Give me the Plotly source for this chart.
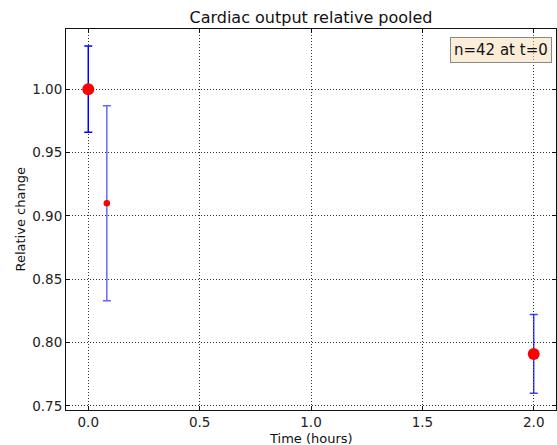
import plotly.graph_objects as go

times = [0.0, 0.0833, 2.0]
means = [1.000, 0.910, 0.791]
errs = [0.034, 0.077, 0.031]
marker_sizes = [12, 6.5, 12]
err_colors = ["rgb(0,0,255)", "rgba(0,0,255,0.6)", "rgba(0,0,255,0.75)"]

x_ticks = [0.0, 0.5, 1.0, 1.5, 2.0]
x_ticklabels = ["0.0", "0.5", "1.0", "1.5", "2.0"]
y_ticks = [0.75, 0.80, 0.85, 0.90, 0.95, 1.00]
y_ticklabels = ["0.75", "0.80", "0.85", "0.90", "0.95", "1.00"]

W, H = 557, 445
ML, MR, MT, MB = 66, 1, 29, 35

fig = go.Figure()
for t, m, e, s, c in zip(times, means, errs, marker_sizes, err_colors):
    fig.add_trace(go.Scatter(
        x=[t], y=[m], mode="markers",
        marker=dict(color="red", size=s, line=dict(width=0)),
        error_y=dict(type="data", array=[e], visible=True, color=c,
                     thickness=1.5, width=4),
        showlegend=False,
    ))

font = "DejaVu Sans, sans-serif"
axis_common = dict(
    showline=True, linecolor="#111111", linewidth=1, mirror="ticks",
    ticks="inside", ticklen=4, tickcolor="#111111",
    showgrid=True, gridcolor="#333333", gridwidth=1, griddash="1px,2px",
    zeroline=False, automargin=False,
    tickfont=dict(family=font, size=13.5, color="#222"),
)

pw = W - ML - MR
ph = H - MT - MB

fig.update_layout(
    width=W, height=H,
    margin=dict(l=ML, r=MR, t=MT, b=MB),
    paper_bgcolor="white", plot_bgcolor="white",
    title=dict(text="Cardiac output relative pooled",
               x=0.5, xanchor="center", xref="paper",
               y=1 - 17 / H, yanchor="middle",
               font=dict(family=font, size=16, color="#111")),
    xaxis=dict(range=[-0.1, 2.1], tickvals=x_ticks, ticktext=x_ticklabels,
               **axis_common),
    yaxis=dict(range=[0.7467, 1.0475], tickvals=y_ticks, ticktext=y_ticklabels,
               **axis_common),
    annotations=[
        dict(text="n=42 at t=0", xref="paper", yref="paper",
             x=(552 - ML) / pw, y=1 - (37 - MT) / ph,
             xanchor="right", yanchor="top", showarrow=False,
             font=dict(family=font, size=15, color="#111"),
             bgcolor="rgba(245,222,179,0.5)", bordercolor="#888", borderwidth=1,
             borderpad=3),
        dict(text="Time (hours)", xref="paper", yref="paper",
             x=0.5, y=-(438 - (H - MB)) / ph, xanchor="center", yanchor="middle",
             showarrow=False, font=dict(family=font, size=13, color="#111")),
        dict(text="Relative change", xref="paper", yref="paper",
             x=-(ML - 20) / pw, y=0.5, xanchor="center", yanchor="middle",
             textangle=-90, showarrow=False,
             font=dict(family=font, size=13, color="#111")),
    ],
)

fig.write_html("out.html", config={"displayModeBar": False},
               post_script="document.body.style.margin='0';document.body.style.overflow='hidden';")
